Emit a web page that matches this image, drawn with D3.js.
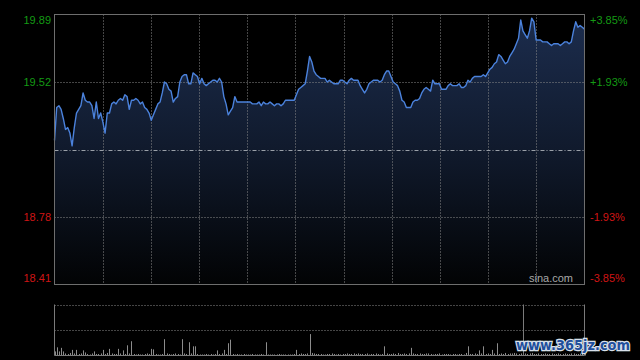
<!DOCTYPE html>
<html>
<head>
<meta charset="utf-8">
<script src="https://cdn.jsdelivr.net/npm/d3@7"></script>
<style>
  html, body { margin: 0; padding: 0; background: #000; }
  #chart { width: 640px; height: 360px; }
</style>
</head>
<body>
<div id="chart"></div>
<script>
// price axis ticks (left) and percent labels (right)
const priceTicks = [19.89, 19.52, 19.15, 18.78, 18.41];
const pctLabels = ["+3.85%", "+1.93%", "", "-1.93%", "-3.85%"];
const preClose = 19.15;

// one price per minute, 242 minutes
const prices = [
  19.20, 19.38, 19.39, 19.37, 19.32, 19.26, 19.27, 19.24, 19.17, 19.27,
  19.35, 19.37, 19.39, 19.46, 19.42, 19.41, 19.41, 19.39, 19.32, 19.41,
  19.32, 19.35, 19.30, 19.24, 19.35, 19.35, 19.40, 19.41, 19.40, 19.42,
  19.43, 19.42, 19.45, 19.44, 19.37, 19.42, 19.42, 19.43, 19.42, 19.40,
  19.41, 19.38, 19.37, 19.35, 19.31, 19.34, 19.37, 19.40, 19.41, 19.46,
  19.52, 19.51, 19.48, 19.47, 19.41, 19.43, 19.44, 19.52, 19.55, 19.56,
  19.56, 19.51, 19.51, 19.57, 19.56, 19.55, 19.51, 19.54, 19.51, 19.50,
  19.51, 19.52, 19.53, 19.53, 19.52, 19.54, 19.52, 19.44, 19.40, 19.34,
  19.36, 19.38, 19.44, 19.41, 19.41, 19.41, 19.41, 19.41, 19.41, 19.41,
  19.40, 19.40, 19.40, 19.41, 19.39, 19.41, 19.40, 19.40, 19.41, 19.40,
  19.39, 19.40, 19.40, 19.39, 19.40, 19.42, 19.42, 19.42, 19.42, 19.42,
  19.45, 19.48, 19.49, 19.50, 19.51, 19.58, 19.66, 19.63, 19.58, 19.56,
  19.55, 19.54, 19.54, 19.54, 19.52, 19.53, 19.52, 19.51, 19.51, 19.51,
  19.53, 19.53, 19.52, 19.51, 19.53, 19.54, 19.53, 19.53, 19.53, 19.50,
  19.48, 19.46, 19.48, 19.51, 19.52, 19.53, 19.53, 19.53, 19.52, 19.53,
  19.56, 19.58, 19.58, 19.55, 19.52, 19.51, 19.50, 19.47, 19.42, 19.41,
  19.38, 19.38, 19.38, 19.41, 19.42, 19.42, 19.43, 19.46, 19.48, 19.49,
  19.48, 19.47, 19.53, 19.51, 19.51, 19.51, 19.48, 19.48, 19.48, 19.50,
  19.51, 19.50, 19.50, 19.50, 19.51, 19.49, 19.49, 19.50, 19.53, 19.52,
  19.54, 19.55, 19.55, 19.55, 19.55, 19.56, 19.55, 19.57, 19.59, 19.60,
  19.62, 19.63, 19.67, 19.66, 19.64, 19.62, 19.63, 19.66, 19.68, 19.70,
  19.73, 19.76, 19.86, 19.80, 19.78, 19.76, 19.80, 19.87, 19.85, 19.75,
  19.75, 19.75, 19.74, 19.74, 19.74, 19.73, 19.72, 19.73, 19.73, 19.73,
  19.72, 19.73, 19.74, 19.74, 19.73, 19.74, 19.80, 19.85, 19.82, 19.83,
  19.82, 19.81
];

// volume per minute (relative units, panel top = 100)
const volumes = [
  8, 16, 8, 15, 8, 4, 3, 5, 11, 4, 11, 3, 4, 10, 6, 3, 2, 4, 8, 3,
  3, 4, 11, 3, 5, 13, 4, 3, 3, 13, 4, 10, 3, 20, 4, 28, 3, 2, 3, 2,
  2, 3, 4, 3, 13, 12, 3, 2, 2, 3, 32, 4, 3, 2, 3, 4, 3, 2, 32, 4,
  3, 26, 4, 18, 18, 3, 2, 2, 2, 3, 2, 3, 2, 3, 10, 3, 4, 11, 3, 24,
  31, 3, 2, 3, 2, 2, 3, 2, 2, 2, 3, 2, 2, 2, 3, 2, 26, 2, 2, 2,
  2, 2, 3, 2, 2, 2, 2, 2, 2, 3, 11, 3, 4, 3, 3, 4, 42, 5, 4, 3,
  3, 3, 2, 2, 3, 3, 4, 3, 2, 3, 2, 3, 3, 4, 3, 3, 4, 3, 4, 3,
  3, 3, 4, 2, 3, 3, 4, 3, 2, 3, 18, 4, 3, 3, 4, 3, 5, 3, 3, 4,
  3, 4, 15, 4, 3, 3, 4, 3, 3, 4, 4, 3, 2, 3, 3, 4, 2, 3, 3, 3,
  2, 3, 3, 2, 3, 3, 2, 5, 18, 3, 3, 4, 3, 10, 4, 18, 3, 4, 3, 11,
  4, 24, 3, 4, 3, 5, 3, 4, 4, 5, 4, 3, 4, 5, 4, 3, 4, 5, 3, 3,
  4, 3, 3, 4, 3, 3, 4, 3, 3, 4, 3, 3, 4, 3, 3, 4, 4, 3, 3, 4,
  4, 3
];
const volMax = 100;
const cursorMinute = 213;

const width = 640, height = 360;
const plot = {left: 54.5, right: 584.5, top: 14.5, bottom: 284.5};
const volPlot = {top: 304.5, bottom: 355.5};

const svg = d3.select("#chart")
  .append("svg")
    .attr("width", width)
    .attr("height", height)
    .style("font-family", "Arial, 'Liberation Sans', sans-serif");

svg.append("rect").attr("width", width).attr("height", height).attr("fill", "#000");

const x = d3.scaleLinear().domain([0, prices.length - 1]).range([plot.left, plot.right]);
const y = d3.scaleLinear().domain([priceTicks[4], priceTicks[0]]).range([plot.bottom, plot.top]);
const yv = d3.scaleLinear().domain([0, volMax]).range([volPlot.bottom, volPlot.top]);

// gradient under the price line
const grad = svg.append("defs").append("linearGradient")
  .attr("id", "areaGrad")
  .attr("gradientUnits", "userSpaceOnUse")
  .attr("x1", 0).attr("y1", plot.top).attr("x2", 0).attr("y2", plot.bottom);
grad.append("stop").attr("offset", "0%").attr("stop-color", "#1c2d4e");
grad.append("stop").attr("offset", "55%").attr("stop-color", "#0f1829");
grad.append("stop").attr("offset", "100%").attr("stop-color", "#020304");

const area = d3.area()
  .x((d, i) => x(i))
  .y0(plot.bottom)
  .y1(d => y(d));

svg.append("path")
  .datum(prices)
  .attr("d", area)
  .attr("fill", "url(#areaGrad)");

// grid lines
const grid = svg.append("g").attr("stroke", "#8a8a8a").attr("stroke-width", 1).attr("stroke-dasharray", "1,2");
const vTicks = d3.range(1, 11).map(k => k * (prices.length - 1) / 11);
grid.selectAll(".vg")
  .data(vTicks)
  .join("line")
    .attr("x1", d => Math.round(x(d)) + 0.5)
    .attr("x2", d => Math.round(x(d)) + 0.5)
    .attr("y1", plot.top)
    .attr("y2", plot.bottom);
grid.selectAll(".hg")
  .data([priceTicks[1], priceTicks[3]])
  .join("line")
    .attr("x1", plot.left)
    .attr("x2", plot.right)
    .attr("y1", d => Math.round(y(d)) + 0.5)
    .attr("y2", d => Math.round(y(d)) + 0.5);

// pre-close line
svg.append("line")
  .attr("x1", plot.left).attr("x2", plot.right)
  .attr("y1", Math.round(y(preClose)) + 0.5).attr("y2", Math.round(y(preClose)) + 0.5)
  .attr("stroke", "#9aa0a8")
  .attr("stroke-dasharray", "4,2,1,2");

// price line
svg.append("path")
  .datum(prices)
  .attr("d", d3.line().x((d, i) => x(i)).y(d => y(d)))
  .attr("fill", "none")
  .attr("stroke", "#4b82dc")
  .attr("stroke-width", 1.4)
  .attr("stroke-linejoin", "round");

// frame
svg.append("rect")
  .attr("x", plot.left).attr("y", plot.top)
  .attr("width", plot.right - plot.left).attr("height", plot.bottom - plot.top)
  .attr("fill", "none").attr("stroke", "#6e6e6e");

// axis labels
const labelY = (d, i) => y(d) + (i === 0 ? 6 : i === priceTicks.length - 1 ? -6 : 0);
const labelColor = d => d > preClose ? "#149a14" : d < preClose ? "#d01515" : "#999";

svg.selectAll(".lbl-left")
  .data(priceTicks.filter(d => d !== preClose))
  .join("text")
    .attr("x", 51)
    .attr("y", d => labelY(d, priceTicks.indexOf(d)))
    .attr("dy", "0.35em")
    .attr("text-anchor", "end")
    .attr("font-size", 11)
    .attr("fill", labelColor)
    .text(d => d.toFixed(2));

svg.selectAll(".lbl-right")
  .data(priceTicks)
  .join("text")
    .attr("x", 590)
    .attr("y", (d, i) => labelY(d, i))
    .attr("dy", "0.35em")
    .attr("font-size", 11)
    .attr("fill", labelColor)
    .text((d, i) => pctLabels[i]);

svg.append("text")
  .attr("x", 573).attr("y", 278).attr("dy", "0.35em")
  .attr("text-anchor", "end")
  .attr("font-size", 11)
  .attr("fill", "#a8a8a8")
  .text("sina.com");

// volume panel
const vgrid = svg.append("g").attr("stroke", "#8a8a8a").attr("stroke-dasharray", "1,2");
vgrid.selectAll("line")
  .data([volMax, volMax / 2])
  .join("line")
    .attr("x1", plot.left).attr("x2", plot.right)
    .attr("y1", d => Math.round(yv(d)) + 0.5)
    .attr("y2", d => Math.round(yv(d)) + 0.5);

svg.append("g")
  .attr("stroke", "#8c8c8c")
  .selectAll("line")
  .data(volumes)
  .join("line")
    .attr("x1", (d, i) => Math.round(x(i)) + 0.5)
    .attr("x2", (d, i) => Math.round(x(i)) + 0.5)
    .attr("y1", yv(0))
    .attr("y2", d => yv(d));

const volFrame = svg.append("g").attr("stroke", "#7a7a7a");
volFrame.append("line").attr("x1", plot.left).attr("x2", plot.left).attr("y1", volPlot.top).attr("y2", volPlot.bottom);
volFrame.append("line").attr("x1", plot.right).attr("x2", plot.right).attr("y1", volPlot.top).attr("y2", volPlot.bottom);
volFrame.append("line").attr("x1", plot.left).attr("x2", plot.right).attr("y1", volPlot.bottom).attr("y2", volPlot.bottom);
volFrame.append("line")
  .attr("x1", Math.round(x(cursorMinute)) + 0.5).attr("x2", Math.round(x(cursorMinute)) + 0.5)
  .attr("y1", volPlot.top).attr("y2", volPlot.bottom);

// watermark
svg.append("text")
  .attr("x", 516).attr("y", 350)
  .attr("font-family", "'DejaVu Sans', sans-serif")
  .attr("font-weight", "bold")
  .attr("font-size", 14)
  .attr("textLength", 114)
  .attr("lengthAdjust", "spacingAndGlyphs")
  .attr("fill", "#1f4f9c")
  .attr("stroke", "#d8e0ea")
  .attr("stroke-width", 2.5)
  .attr("paint-order", "stroke")
  .text("www.365jz.com");
</script>
</body>
</html>
